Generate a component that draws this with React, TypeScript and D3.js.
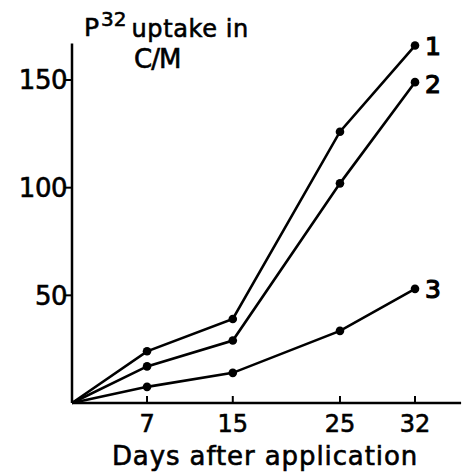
import React from 'react';
import * as d3 from 'd3';

// data
const days = [0, 7, 15, 25, 32];
const series1 = [0, 24, 39, 126, 166];
const series2 = [0, 17, 29, 102, 149];
const series3 = [0, 7.5, 14, 33.5, 53];
const seriesNames = ['1', '2', '3'];
const yTicks = [50, 100, 150];
const xTicks = [7, 15, 25, 32];

const W = 464;
const H = 473;
const font = "'DejaVu Sans', sans-serif";

const App = () => {
  const x = d3.scaleLinear().domain([0, 32]).range([72, 415]);
  const y = d3.scaleLinear().domain([0, 150]).range([403, 80]);

  const line = d3
    .line<number>()
    .x((_, i) => x(days[i]))
    .y((d) => y(d));

  const all = [series1, series2, series3];
  const labelOffsets = [0, 2, 0];

  // heavier text like the printed original
  const ink = { stroke: '#000', strokeWidth: 0.6 };

  return (
    <svg width={W} height={H} style={{ position: 'absolute', left: 0, top: 0, background: '#fff' }}>
      {/* axes */}
      <line x1={x(0)} x2={x(36.3)} y1={y(0)} y2={y(0)} stroke="#000" strokeWidth={2.5} />
      <line x1={x(0)} x2={x(0)} y1={y(0)} y2={y(167)} stroke="#000" strokeWidth={2.5} />

      {yTicks.map((t) => (
        <g key={t}>
          <line x1={x(0) - 7} x2={x(0)} y1={y(t)} y2={y(t)} stroke="#000" strokeWidth={2} />
          <text x={x(0) - 5} y={y(t)} dy="0.36em" textAnchor="end" fontFamily={font} fontSize={26} letterSpacing={-0.5} {...ink}>
            {t}
          </text>
        </g>
      ))}

      {xTicks.map((t) => (
        <g key={t}>
          <line x1={x(t)} x2={x(t)} y1={y(0)} y2={y(0) - 7} stroke="#000" strokeWidth={2} />
          <text x={x(t)} y={432} textAnchor="middle" fontFamily={font} fontSize={24} {...ink}>
            {t}
          </text>
        </g>
      ))}

      <text x={265} y={465} textAnchor="middle" fontFamily={font} fontSize={26} letterSpacing={0.9} {...ink}>
        Days after application
      </text>

      {/* y axis title */}
      <text x={84} y={36} fontFamily={font} fontSize={25} {...ink}>
        <tspan letterSpacing={2}>P</tspan>
        <tspan fontSize={20} dy={-10}>32</tspan>
        <tspan fontSize={24} dy={11} dx={5} letterSpacing={0.6}>uptake in</tspan>
      </text>
      <text x={134} y={68} fontFamily={font} fontSize={26} letterSpacing={-1} {...ink}>
        C/M
      </text>

      {/* series */}
      {all.map((s, k) => (
        <g key={k}>
          <path d={line(s) || ''} fill="none" stroke="#000" strokeWidth={2.6} />
          {s.slice(1).map((v, i) => (
            <circle key={i} cx={x(days[i + 1])} cy={y(v)} r={4.3} fill="#000" />
          ))}
          <text
            x={x(32) + 10}
            y={y(s[s.length - 1]) + labelOffsets[k]}
            dy="0.36em"
            fontFamily={font}
            fontSize={25}
            stroke="#000"
            strokeWidth={1.2}
          >
            {seriesNames[k]}
          </text>
        </g>
      ))}
    </svg>
  );
};

export default App;
